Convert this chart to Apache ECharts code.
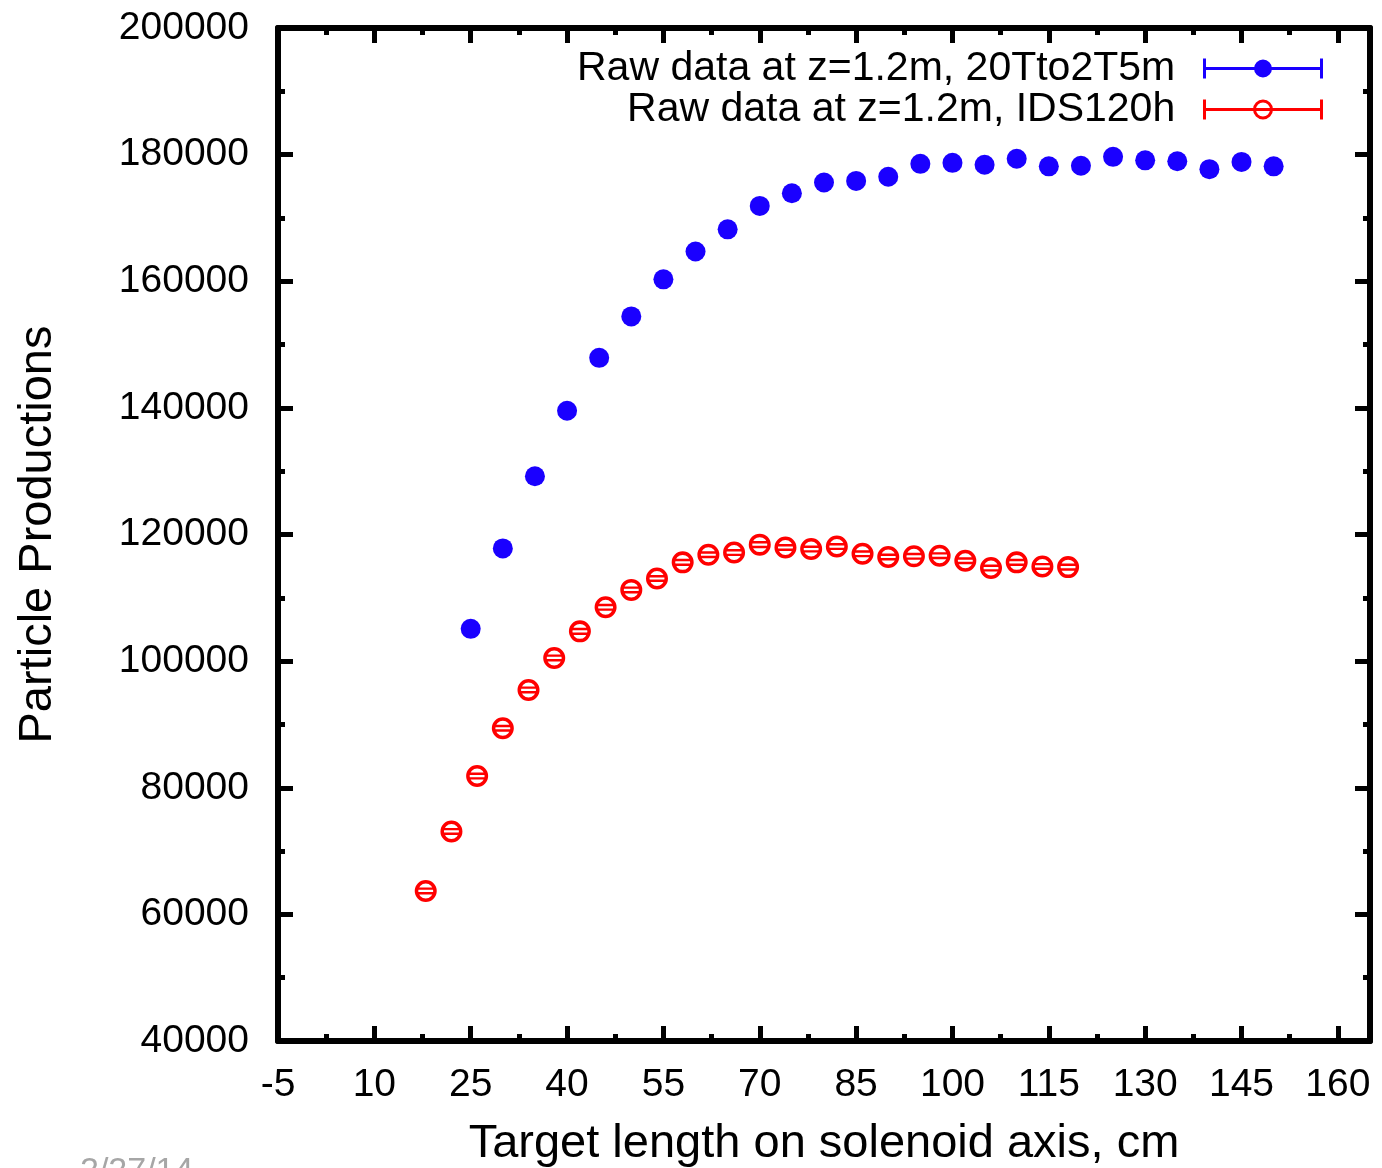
<!DOCTYPE html>
<html>
<head>
<meta charset="utf-8">
<script src="https://cdn.jsdelivr.net/npm/echarts@6/dist/echarts.min.js"></script>
<style>
    html, body { margin: 0; padding: 0; background: #fff; }
    #chart { width: 1382px; height: 1168px; }
</style>
</head>
<body>
<div id="chart"></div>
<script>
// 数据
const blueName = 'Raw data at z=1.2m, 20Tto2T5m';
const redName = 'Raw data at z=1.2m, IDS120h';

const blueX = [25, 30, 35, 40, 45, 50, 55, 60, 65, 70, 75, 80, 85, 90, 95, 100, 105, 110, 115, 120, 125, 130, 135, 140, 145, 150];
const blueY = [105100, 117800, 129200, 139550, 147900, 154450, 160300, 164700, 168200, 171900, 173900, 175600, 175850, 176500,
    178550, 178700, 178400, 179350, 178150, 178250, 179650, 179100, 178950, 177700, 178850, 178150];

const redX = [18, 22, 26, 30, 34, 38, 42, 46, 50, 54, 58, 62, 66, 70, 74, 78, 82, 86, 90, 94, 98, 102, 106, 110, 114, 118];
const redY = [63700, 73100, 81850, 89400, 95450, 100500, 104700, 108500, 111250, 113050, 115600, 116800, 117150, 118400,
    117950, 117700, 118100, 116950, 116450, 116550, 116650, 115850, 114700, 115600, 114950, 114850];

const xTicks = { min: -5, max: 165, interval: 15 };
const yTicks = { min: 40000, max: 200000, interval: 20000 };

const FONT = 'Liberation Sans, Arial, Helvetica, sans-serif';

// 空心圆 + 误差棒端帽
const ringSymbol = 'path://M0 10a10 10 0 1 1 20 0a10 10 0 1 1 -20 0z' +
    'M3.2 10a6.8 6.8 0 1 0 13.6 0a6.8 6.8 0 1 0 -13.6 0z' +
    'M2.5 6.8h15v2.2h-15z M2.5 11h15v2.2h-15z';

// 图例图标（误差棒样式）
const blueIcon = 'path://M0 0h3v20h-3z M117 0h3v20h-3z M0 8.5h120v3h-120z M51 10a9 9 0 1 1 18 0a9 9 0 1 1 -18 0z';
const redIcon = 'path://M0 0h3v20h-3z M117 0h3v20h-3z M0 8.5h120v3h-120z' +
    'M50 10a10 10 0 1 1 20 0a10 10 0 1 1 -20 0z M53 10a7 7 0 1 0 14 0a7 7 0 1 0 -14 0z';

function pairs(xs, ys) {
    return xs.map((x, i) => [x, ys[i]]);
}

function frameAxis(extra) {
    const base = {
        type: 'value',
        axisLine: { show: true, onZero: false, lineStyle: { color: '#000', width: 6 } },
        axisTick: { show: true, inside: true, length: 15, lineStyle: { color: '#000', width: 5 } },
        minorTick: { show: true, splitNumber: 2, length: 7, lineStyle: { color: '#000', width: 5 } },
        splitLine: { show: false },
        minorSplitLine: { show: false }
    };
    return Object.assign(base, extra);
}

document.addEventListener('DOMContentLoaded', function() {
    const chart = echarts.init(document.getElementById('chart'));
    const option = {
        animation: false,
        backgroundColor: '#fff',
        title: {
            text: '2/27/14',
            left: 75,
            top: 1150,
            textStyle: { color: '#a6a6a6', fontSize: 34, fontWeight: 'normal', fontFamily: FONT }
        },
        grid: { left: 278, right: 12, top: 28, bottom: 127, containLabel: false, outerBoundsMode: 'none' },
        legend: {
            orient: 'vertical',
            right: 59,
            top: 48,
            padding: 0,
            itemGap: 0,
            align: 'right',
            itemWidth: 120,
            itemHeight: 20,
            formatter: name => name + '  ',
            textStyle: { color: '#000', fontSize: 41, lineHeight: 40, fontFamily: FONT },
            data: [
                { name: blueName, icon: blueIcon, itemStyle: { color: '#1a00ff', borderWidth: 0 } },
                { name: redName, icon: redIcon, itemStyle: { color: '#ff0000', borderWidth: 0 } }
            ]
        },
        xAxis: [
            frameAxis({
                position: 'bottom',
                min: xTicks.min, max: xTicks.max, interval: xTicks.interval,
                name: 'Target length on solenoid axis, cm',
                nameLocation: 'middle',
                nameGap: 80,
                nameTextStyle: { color: '#000', fontSize: 47, fontFamily: FONT },
                axisLabel: {
                    color: '#000', fontSize: 39, fontFamily: FONT, margin: 25,
                    showMaxLabel: false,
                    formatter: v => String(v)
                }
            }),
            frameAxis({
                position: 'top',
                min: xTicks.min, max: xTicks.max, interval: xTicks.interval,
                axisLabel: { show: false }
            })
        ],
        yAxis: [
            frameAxis({
                position: 'left',
                min: yTicks.min, max: yTicks.max, interval: yTicks.interval,
                name: 'Particle Productions',
                nameLocation: 'middle',
                nameRotate: 90,
                nameGap: 216,
                nameTextStyle: { color: '#000', fontSize: 47, fontFamily: FONT },
                axisLabel: {
                    color: '#000', fontSize: 39, fontFamily: FONT, margin: 29,
                    formatter: v => String(v)
                }
            }),
            frameAxis({
                position: 'right',
                min: yTicks.min, max: yTicks.max, interval: yTicks.interval,
                axisLabel: { show: false }
            })
        ],
        series: [
            {
                name: blueName,
                type: 'scatter',
                xAxisIndex: 0,
                yAxisIndex: 0,
                symbol: 'circle',
                symbolSize: 20,
                itemStyle: { color: '#1a00ff', opacity: 1 },
                data: pairs(blueX, blueY)
            },
            {
                name: redName,
                type: 'scatter',
                xAxisIndex: 0,
                yAxisIndex: 0,
                symbol: ringSymbol,
                symbolSize: 22,
                itemStyle: { color: '#ff0000', opacity: 1 },
                data: pairs(redX, redY)
            }
        ]
    };
    chart.setOption(option);
});
</script>
</body>
</html>
